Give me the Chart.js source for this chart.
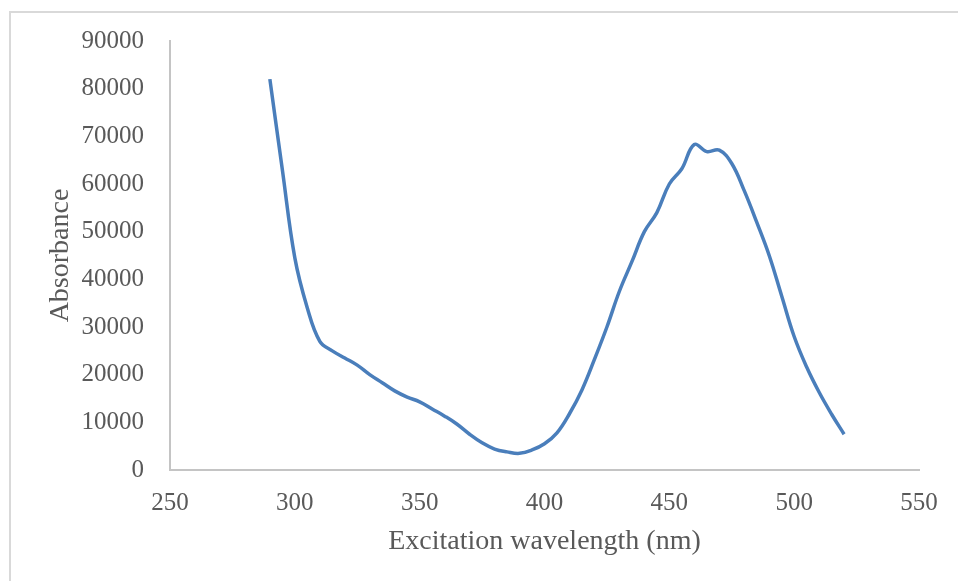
<!DOCTYPE html>
<html lang="en">
<head>
    <meta charset="UTF-8">
    <title>Excitation spectrum</title>
    <style>
        body {
            margin: 0;
            background-color: #fff;
            overflow: hidden;
        }
        #frame {
            position: absolute;
            left: 9px;
            top: 11px;
            width: 1200px;
            height: 800px;
            border: 2px solid #d9d9d9;
        }
        #chart-box {
            position: absolute;
            left: 0;
            top: 0;
            width: 958px;
            height: 581px;
        }
    </style>
</head>
<body>
    <div id="frame"></div>
    <div id="chart-box">
        <canvas id="spectrumChart" width="958" height="581"></canvas>
    </div>

    <script src="https://cdn.jsdelivr.net/npm/chart.js"></script>
    <script>
        // wavelength (nm) and absorbance
        var wavelengths = [290, 295, 300, 305, 310, 315, 320, 325, 330, 335,
                           340, 345, 350, 355, 360, 365, 370, 375, 380, 385,
                           390, 395, 400, 405, 410, 415, 420, 425, 430, 435,
                           440, 445, 450, 455, 460, 465, 470, 475, 480, 485,
                           490, 495, 500, 505, 510, 515, 520];
        var absorbance = [82000, 63000, 44500, 34000, 27000, 25000, 23500, 22000, 20000, 18300,
                          16600, 15300, 14300, 12800, 11300, 9600, 7500, 5700, 4400, 3800,
                          3500, 4200, 5500, 7800, 11800, 16800, 23200, 30000, 37500, 43700,
                          50000, 54000, 60000, 63200, 68300, 66800, 67100, 64300, 58600, 52000,
                          45000, 36500, 28000, 21600, 16300, 11700, 7500];

        var xTicks = [250, 300, 350, 400, 450, 500, 550];
        var yTicks = [0, 10000, 20000, 30000, 40000, 50000, 60000, 70000, 80000, 90000];

        var points = wavelengths.map(function(w, i) {
            return { x: w, y: absorbance[i] };
        });

        var textColor = '#595959';
        var axisColor = '#c4c4c4';

        var ctx = document.getElementById('spectrumChart').getContext('2d');
        var chart = new Chart(ctx, {
            type: 'line',
            data: {
                datasets: [{
                    data: points,
                    borderColor: '#4a7ebb',
                    borderWidth: 3.5,
                    pointRadius: 0,
                    tension: 0.4,
                    fill: false
                }]
            },
            options: {
                responsive: false,
                animation: false,
                devicePixelRatio: 1,
                layout: {
                    padding: { top: 40, right: 39, bottom: 0, left: 0 }
                },
                plugins: {
                    legend: { display: false },
                    tooltip: { enabled: false }
                },
                scales: {
                    x: {
                        type: 'linear',
                        min: xTicks[0],
                        max: xTicks[xTicks.length - 1],
                        afterFit: function(scale) { scale.height = 111; },
                        afterBuildTicks: function(scale) {
                            scale.ticks = xTicks.map(function(v) { return { value: v }; });
                        },
                        grid: { display: false, drawTicks: false },
                        border: { display: true, color: axisColor, width: 2 },
                        ticks: {
                            padding: 18,
                            color: textColor,
                            font: { family: 'Liberation Serif', size: 25 },
                            maxRotation: 0,
                            callback: function(v) { return String(v); }
                        },
                        title: {
                            display: true,
                            text: 'Excitation wavelength (nm)',
                            color: textColor,
                            font: { family: 'Liberation Serif', size: 28 },
                            padding: { top: 0, bottom: 23 }
                        }
                    },
                    y: {
                        min: yTicks[0],
                        max: yTicks[yTicks.length - 1],
                        afterFit: function(scale) { scale.width = 170; },
                        afterBuildTicks: function(scale) {
                            scale.ticks = yTicks.map(function(v) { return { value: v }; });
                        },
                        grid: { display: false, drawTicks: false },
                        border: { display: true, color: axisColor, width: 2 },
                        ticks: {
                            padding: 26,
                            color: textColor,
                            font: { family: 'Liberation Serif', size: 25 },
                            callback: function(v) { return String(v); }
                        },
                        title: {
                            display: true,
                            text: 'Absorbance',
                            color: textColor,
                            font: { family: 'Liberation Serif', size: 28 },
                            padding: { top: 44, bottom: 0 }
                        }
                    }
                }
            }
        });
    </script>
</body>
</html>
